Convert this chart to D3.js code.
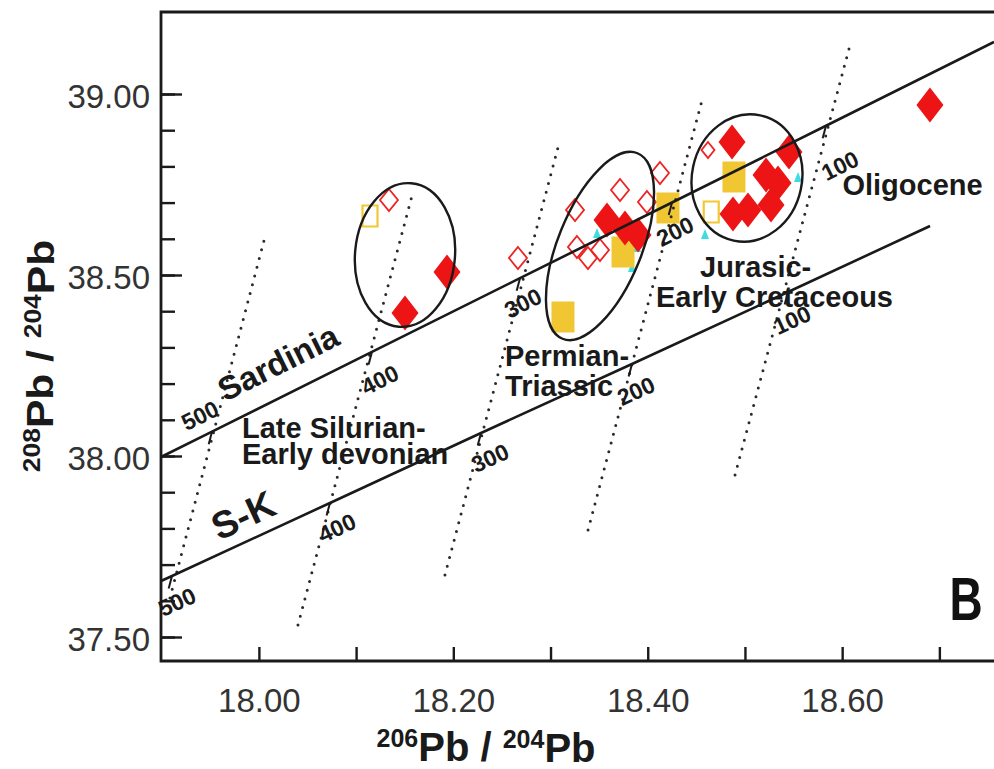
<!DOCTYPE html>
<html><head><meta charset="utf-8">
<script src="https://cdn.jsdelivr.net/npm/d3@7"></script>
<style>
body{margin:0;background:#fff}
svg{display:block;font-family:"Liberation Sans",Arial,Helvetica,sans-serif}
</style>
</head><body>
<svg id="chart" width="994" height="769"></svg>
<script>
// ---------------- data ----------------
const xTickValues = [18.0, 18.1, 18.2, 18.3, 18.4, 18.5, 18.6, 18.7];
const xLabelValues = [18.0, 18.2, 18.4, 18.6];
const xLabels = ["18.00", "18.20", "18.40", "18.60"];
const yTickValues = [37.5, 37.6, 37.7, 37.8, 37.9, 38.0, 38.1, 38.2, 38.3, 38.4, 38.5, 38.6, 38.7, 38.8, 38.9, 39.0];
const yLabelValues = [37.5, 38.0, 38.5, 39.0];
const yLabels = ["37.50", "38.00", "38.50", "39.00"];

// growth curves (Sardinia and S-K) with age ticks (Ma)
const tickAges = [500, 400, 300, 200, 100];
const sardiniaEndX = [17.8993, 18.7562];
const sardiniaEndY = [37.9972, 39.1436];
const sardiniaTickX = [17.9518, 18.1163, 18.2686, 18.4250, 18.5834];
const sardiniaTickY = [38.0674, 38.2876, 38.4912, 38.7003, 38.9122];
const skEndX = [17.8993, 18.6904];
const skEndY = [37.6547, 38.6354];
const skTickX = [17.9106, 18.0731, 18.2285, 18.3838, 18.5443];
const skTickY = [37.6685, 37.8702, 38.0635, 38.2541, 38.4530];

// isochrons (dotted)
const isoBottomX = [17.9085, 18.0402, 18.1914, 18.3386, 18.4898];
const isoBottomY = [37.6077, 37.5331, 37.6713, 37.7956, 37.9475];
const isoTopX = [18.0073, 18.1585, 18.3097, 18.4559, 18.6081];
const isoTopY = [38.6160, 38.7293, 38.8729, 38.9834, 39.1354];

// samples
const redFilledX = [18.1935, 18.1503, 18.3581, 18.3766, 18.3900, 18.4867, 18.5453, 18.5217, 18.5340, 18.4877, 18.5031, 18.5268, 18.6903];
const redFilledY = [38.5083, 38.3950, 38.6519, 38.6298, 38.6105, 38.8674, 38.8398, 38.7762, 38.7541, 38.6685, 38.6796, 38.6934, 38.9696];
const redOpenX = [18.1338, 18.2665, 18.3252, 18.3272, 18.3385, 18.3509, 18.3715, 18.3992, 18.4126, 18.4620];
const redOpenY = [38.7072, 38.5470, 38.6796, 38.5773, 38.5470, 38.5691, 38.7348, 38.7017, 38.7818, 38.8453];
const yellowFilledX = [18.3746, 18.3128, 18.4208, 18.4887];
const yellowFilledY = [38.5635, 38.3840, 38.6851, 38.7707];
const yellowOpenX = [18.1143, 18.4653];
const yellowOpenY = [38.6630, 38.6740];
const cyanX = [18.3478, 18.3890, 18.3838, 18.4589, 18.5546];
const cyanY = [38.6133, 38.5746, 38.5193, 38.6105, 38.7680];

// group ellipses: centre, semi-axes (data units), rotation (deg)
const ellipseCX = [18.1503, 18.3509, 18.5021];
const ellipseCY = [38.5552, 38.5801, 38.7680];
const ellipseRX = [0.0514, 0.1029, 0.0566];
const ellipseRY = [0.1989, 0.1160, 0.1768];
const ellipseAngle = [5, -68, 12];

// labels
const groupLabels = [
  ["Late Silurian-", "Early devonian"],
  ["Permian-", "Triassic"],
  ["Jurasic-", "Early Cretaceous"],
  ["Oligocene"]
];
const groupLabelX = [17.9826, 18.2532, 18.4538, 18.6003];
const groupLabelY = [38.0497, 38.2486, 38.4945, 38.7210];

// ---------------- chart ----------------
const svg = d3.select("#chart");
const x = d3.scaleLinear().domain([17.8993, 18.7562]).range([161, 994]);
const y = d3.scaleLinear().domain([37.4337, 39.2265]).range([661, 12]);
const INK = "#1a1a1a";

// markers
const gM = svg.append("g");
const diamond = (hw, hh) => `M0,${-hh}L${hw},0L0,${hh}L${-hw},0Z`;
const rect = (hw, hh) => `M${-hw},${-hh}H${hw}V${hh}H${-hw}Z`;

gM.selectAll(".yo").data(yellowOpenX).join("path")
  .attr("d", rect(7.5, 10.5)).attr("transform", (d, i) => `translate(${x(d)},${y(yellowOpenY[i])})`)
  .attr("fill", "none").attr("stroke", "#f2c832").attr("stroke-width", 2.2);
gM.selectAll(".ro").data(redOpenX).join("path")
  .attr("d", (d, i) => i === redOpenX.length - 1 ? diamond(6.5, 8) : diamond(9, 11))
  .attr("transform", (d, i) => `translate(${x(d)},${y(redOpenY[i])})`)
  .attr("fill", "none").attr("stroke", "#ee2222").attr("stroke-width", 1.8);
gM.selectAll(".cy").data(cyanX).join("path")
  .attr("d", "M0,-6L4,4L-4,4Z").attr("transform", (d, i) => `translate(${x(d)},${y(cyanY[i])})`)
  .attr("fill", "#3fdbe3");
gM.selectAll(".yf").data(yellowFilledX).join("path")
  .attr("d", rect(11.5, 15.5)).attr("transform", (d, i) => `translate(${x(d)},${y(yellowFilledY[i])})`)
  .attr("fill", "#f0c632");
gM.selectAll(".rf").data(redFilledX).join("path")
  .attr("d", diamond(13.5, 17.5)).attr("transform", (d, i) => `translate(${x(d)},${y(redFilledY[i])})`)
  .attr("fill", "#ec1414");

// isochrons
svg.append("g").selectAll("line").data(isoBottomX).join("line")
  .attr("x1", d => x(d)).attr("y1", (d, i) => y(isoBottomY[i]))
  .attr("x2", (d, i) => x(isoTopX[i])).attr("y2", (d, i) => y(isoTopY[i]))
  .attr("stroke", "#2a2a2a").attr("stroke-width", 3).attr("stroke-linecap", "round")
  .attr("stroke-dasharray", "0,9");

// growth curves with ticks and age labels
function curve(endX, endY, tickX, tickY, labelOffsets) {
  const pts = [[endX[0], endY[0]], ...tickX.map((v, i) => [v, tickY[i]]), [endX[1], endY[1]]];
  svg.append("path").attr("d", d3.line().x(p => x(p[0])).y(p => y(p[1]))(pts))
    .attr("fill", "none").attr("stroke", INK).attr("stroke-width", 2.6);
  const ang = Math.atan2(y(endY[1]) - y(endY[0]), x(endX[1]) - x(endX[0])) * 180 / Math.PI;
  tickX.forEach((v, i) => {
    const ix = x(isoTopX[i]) - x(isoBottomX[i]), iy = y(isoTopY[i]) - y(isoBottomY[i]);
    const L = Math.hypot(ix, iy);
    const px = x(v), py = y(tickY[i]);
    svg.append("line").attr("x1", px).attr("y1", py)
      .attr("x2", px - ix / L * 13).attr("y2", py - iy / L * 13)
      .attr("stroke", INK).attr("stroke-width", 2);
    const o = labelOffsets[i];
    svg.append("text").attr("transform", `translate(${px + o[0]},${py + o[1]}) rotate(${ang})`)
      .attr("text-anchor", "middle").attr("dy", "0.35em")
      .attr("font-size", 23).attr("font-weight", "bold").attr("fill", INK)
      .text(tickAges[i]);
  });
  return ang;
}
const angS = curve(sardiniaEndX, sardiniaEndY, sardiniaTickX, sardiniaTickY,
  [[-12, -16], [8, 28], [3, 25], [3, 29], [14, 40]]);
const angK = curve(skEndX, skEndY, skTickX, skTickY,
  [[5, 26], [7, 25], [9, 25], [4, 27], [4, 28]]);

// ellipses
svg.append("g").selectAll("ellipse").data(ellipseCX).join("ellipse")
  .attr("cx", 0).attr("cy", 0)
  .attr("rx", (d, i) => x(d + ellipseRX[i]) - x(d))
  .attr("ry", (d, i) => y(ellipseCY[i]) - y(ellipseCY[i] + ellipseRY[i]))
  .attr("transform", (d, i) => `translate(${x(d)},${y(ellipseCY[i])}) rotate(${ellipseAngle[i]})`)
  .attr("fill", "none").attr("stroke", INK).attr("stroke-width", 2.4);

// curve names
svg.append("text").attr("transform", `translate(225,402) rotate(${angS})`)
  .attr("font-size", 33).attr("font-weight", "bold").attr("fill", INK).text("Sardinia");
svg.append("text").attr("transform", `translate(219,541) rotate(${angK})`)
  .attr("font-size", 38).attr("font-weight", "bold").attr("fill", INK).text("S-K");

// group labels
groupLabels.forEach((lines, k) => {
  const t = svg.append("text").attr("font-size", 29).attr("font-weight", "bold").attr("fill", INK);
  lines.forEach((s, j) => {
    t.append("tspan").attr("x", x(groupLabelX[k]) - (k === 2 && j === 1 ? 44 : 0))
      .attr("y", y(groupLabelY[k]) + j * (k === 0 ? 26 : 30)).text(s);
  });
});

// axes
const gx = svg.append("g").attr("transform", "translate(0,661)")
  .call(d3.axisBottom(x).tickValues(xTickValues).tickSize(-14).tickSizeOuter(0)
    .tickPadding(28).tickFormat(d => { const i = xLabelValues.findIndex(v => Math.abs(v - d) < 1e-9); return i >= 0 ? xLabels[i] : ""; }));
gx.select(".domain").remove();
gx.selectAll("line").attr("stroke", INK).attr("stroke-width", 2.4);
gx.selectAll("text").attr("font-size", 33).attr("fill", "#333").attr("font-family", "Liberation Sans, Arial, sans-serif");

const gyMinor = svg.append("g").attr("transform", "translate(161,0)")
  .call(d3.axisLeft(y).tickValues(yTickValues).tickSize(-14).tickFormat(""));
gyMinor.select(".domain").remove();
gyMinor.selectAll("line").attr("stroke", INK).attr("stroke-width", 2.4);

const gy = svg.append("g").attr("transform", "translate(161,0)")
  .call(d3.axisLeft(y).tickValues(yLabelValues).tickSize(-21).tickPadding(11)
    .tickFormat(d => yLabels[yLabelValues.indexOf(d)]));
gy.select(".domain").remove();
gy.selectAll("line").attr("stroke", INK).attr("stroke-width", 2.4);
gy.selectAll("text").attr("font-size", 33).attr("fill", "#333").attr("dy", "0.42em")
  .attr("font-family", "Liberation Sans, Arial, sans-serif");

// frame
const [x0, x1] = x.range(), [yb, yt] = y.range();
svg.append("path").attr("d", `M${x1},${yt}H${x0}V${yb}H${x1}`)
  .attr("fill", "none").attr("stroke", INK).attr("stroke-width", 2.8);

// axis titles
function isoTitle(sel, a, b, big, small) {
  sel.append("tspan").attr("font-size", small).attr("dy", "-0.55em").text(a);
  sel.append("tspan").attr("font-size", big).attr("dy", "0.35em").text("Pb / ");
  sel.append("tspan").attr("font-size", small).attr("dy", "-0.55em").text(b);
  sel.append("tspan").attr("font-size", big).attr("dy", "0.35em").text("Pb");
}
const xt = svg.append("text").attr("x", 486).attr("y", 761).attr("text-anchor", "middle")
  .attr("font-weight", "bold").attr("fill", INK);
isoTitle(xt, "206", "204", 40, 25);
const yt2 = svg.append("text").attr("transform", "translate(53,356) rotate(-90) scale(1.15,1)")
  .attr("text-anchor", "middle").attr("font-weight", "bold").attr("fill", INK);
isoTitle(yt2, "208", "204", 37, 23);

// panel letter
svg.append("text").attr("transform", "translate(966,620) scale(1,1.32)")
  .attr("text-anchor", "middle").attr("font-size", 46).attr("font-weight", "bold")
  .attr("fill", "#111").text("B");
</script>
</body></html>
